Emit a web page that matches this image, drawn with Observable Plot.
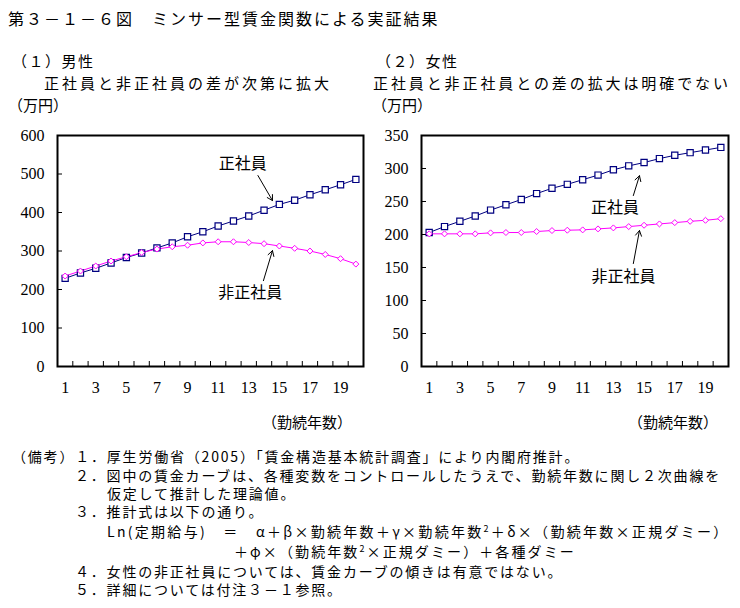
<!DOCTYPE html>
<html><head><meta charset="utf-8">
<script src="https://cdn.jsdelivr.net/npm/d3@7"></script>
<script src="https://cdn.jsdelivr.net/npm/@observablehq/plot@0.6"></script>
<style>
body{margin:0;background:#fff;width:740px;height:608px;position:relative;overflow:hidden;font-family:"Noto Sans CJK JP",sans-serif;color:#000}
.t{position:absolute;white-space:pre;line-height:1}
.chart{position:absolute}
</style></head><body>
<script>
// ---- data ----
const years = [1,2,3,4,5,6,7,8,9,10,11,12,13,14,15,16,17,18,19,20];
const maleRegular    = [229,243,255,269,283,295,308,321,337,350,365,378,391,406,421,432,446,459,472,486];
const maleNonRegular = [235,248,261,274,285,296,305,311,315,321,324,324,322,319,313,307,300,291,280,266];
const femaleRegular    = [203,212,220,228,237,245,253,262,270,276,283,290,298,304,309,315,320,324,328,332];
const femaleNonRegular = [201,201,201,201,202.5,203,203,204.5,206,206.5,207,208.5,210,212,214,216,218,220,221.5,224];
const xTickLabels = [1,3,5,7,9,11,13,15,17,19];
const xTickMarks = [1.5,2.5,3.5,4.5,5.5,6.5,7.5,8.5,9.5,10.5,11.5,12.5,13.5,14.5,15.5,16.5,17.5,18.5,19.5];
const maleYTicks = [0,100,200,300,400,500,600];
const femaleYTicks = [0,50,100,150,200,250,300,350];
// annotation anchors in data units
const maleLabels = [{x:12.6,y:527,t:"正社員"},{x:13.1,y:190,t:"非正社員"}];
const maleArrows = [{x1:13.6,y1:496,x2:14.55,y2:431},{x1:13.96,y1:223,x2:14.55,y2:301}];
const femaleLabels = [{x:13.1,y:241,t:"正社員"},{x:13.66,y:136,t:"非正社員"}];
const femaleArrows = [{x1:14.3,y1:259,x2:14.7,y2:289},{x1:14.3,y1:156,x2:14.7,y2:206}];

const NAVY = "#000080", MAGENTA = "#ff00ff";

function chart({regular, nonRegular, yMax, yTicks, labels, arrows, marginLeft, marginRight}) {
  const data = years.map((yr, i) => ({year: yr, reg: regular[i], non: nonRegular[i]}));
  return Plot.plot({
    width: 370, height: 300,
    marginLeft, marginRight, marginTop: 25, marginBottom: 44,
    x: {domain: [0.5, 20.5]},
    y: {domain: [0, yMax]},
    style: {fontFamily: "'Liberation Serif', serif", fontSize: "16px", color: "#000", background: "transparent"},
    marks: [
      Plot.axisY({ticks: yTicks, tickSize: -5, tickPadding: 18, tickFormat: d => String(d)}),
      Plot.axisX({ticks: xTickMarks, tickSize: -5, tickFormat: () => ""}),
      Plot.axisX({ticks: xTickLabels, tickSize: 0, tickPadding: 15, tickFormat: d => String(d)}),
      Plot.line(data, {x: "year", y: "reg", stroke: NAVY, strokeWidth: 1}),
      Plot.line(data, {x: "year", y: "non", stroke: MAGENTA, strokeWidth: 1}),
      Plot.dot(data, {x: "year", y: "reg", symbol: "square", r: 3.5, stroke: NAVY, fill: "#fff", strokeWidth: 1.2}),
      Plot.dot(data, {x: "year", y: "non", symbol: "diamond2", r: 2.7, stroke: MAGENTA, fill: "#fff", strokeWidth: 1}),
      Plot.arrow(arrows, {x1: "x1", y1: "y1", x2: "x2", y2: "y2", stroke: "#000", strokeWidth: 1, headLength: 9}),
      Plot.text(labels, {x: "x", y: "y", text: "t", fontFamily: "'Noto Sans CJK JP', sans-serif", fontSize: 16, fill: "#000"}),
      Plot.frame({stroke: "#000", strokeWidth: 2})
    ]
  });
}

function addText(txt, x, y, size, spacing, extra) {
  const d = document.createElement("div");
  d.className = "t";
  d.textContent = txt;
  d.style.left = x + "px";
  d.style.top = (y - size / 2) + "px";
  d.style.fontSize = size + "px";
  d.style.letterSpacing = (spacing || 0) + "px";
  if (extra) Object.assign(d.style, extra);
  document.body.appendChild(d);
  return d;
}

// title & headers
addText("第３－１－６図　ミンサー型賃金関数による実証結果", 8, 18, 16, 2);
addText("（１）男性", 12, 60, 15, 1.5);
addText("正社員と非正社員の差が次第に拡大", 44, 82, 15, 3);
addText("（万円）", 8, 104, 15, 0);
addText("（２）女性", 376, 60, 15, 1.5);
addText("正社員と非正社員との差の拡大は明確でない", 373, 82, 15, 2.9);
addText("（万円）", 372, 104, 15, 0);

const c1 = chart({regular: maleRegular, nonRegular: maleNonRegular, yMax: 600, yTicks: maleYTicks,
  labels: maleLabels, arrows: maleArrows, marginLeft: 57, marginRight: 7});
c1.classList.add("chart"); c1.style.left = "0px"; c1.style.top = "110px";
document.body.appendChild(c1);
const c2 = chart({regular: femaleRegular, nonRegular: femaleNonRegular, yMax: 350, yTicks: femaleYTicks,
  labels: femaleLabels, arrows: femaleArrows, marginLeft: 51, marginRight: 12});
c2.classList.add("chart"); c2.style.left = "370px"; c2.style.top = "110px";
document.body.appendChild(c2);

addText("（勤続年数）", 262, 421, 15, 0);
addText("（勤続年数）", 628, 421, 15, 0);

// notes
const N = 14, S = 1.8;
addText("（備考）１．厚生労働省（2005）「賃金構造基本統計調査」により内閣府推計。", 12, 456, N, S);
addText("２．図中の賃金カーブは、各種変数をコントロールしたうえで、勤続年数に関し２次曲線を", 75, 475, N, S);
addText("仮定して推計した理論値。", 107, 493, N, S);
addText("３．推計式は以下の通り。", 75, 511, N, S);
const l5 = addText("", 107, 531, N, 2.3);
l5.innerHTML = "Ln(定期給与)　＝　α＋β×勤続年数＋γ×勤続年数<sup style='font-size:9px;vertical-align:5px'>2</sup>＋δ×（勤続年数×正規ダミー）";
const l6 = addText("", 234, 551, N, 2.1);
l6.innerHTML = "＋φ×（勤続年数<sup style='font-size:9px;vertical-align:5px'>2</sup>×正規ダミー）＋各種ダミー";
addText("４．女性の非正社員については、賃金カーブの傾きは有意ではない。", 75, 571, N, S);
addText("５．詳細については付注３－１参照。", 75, 589, N, S);
</script>
</body></html>
